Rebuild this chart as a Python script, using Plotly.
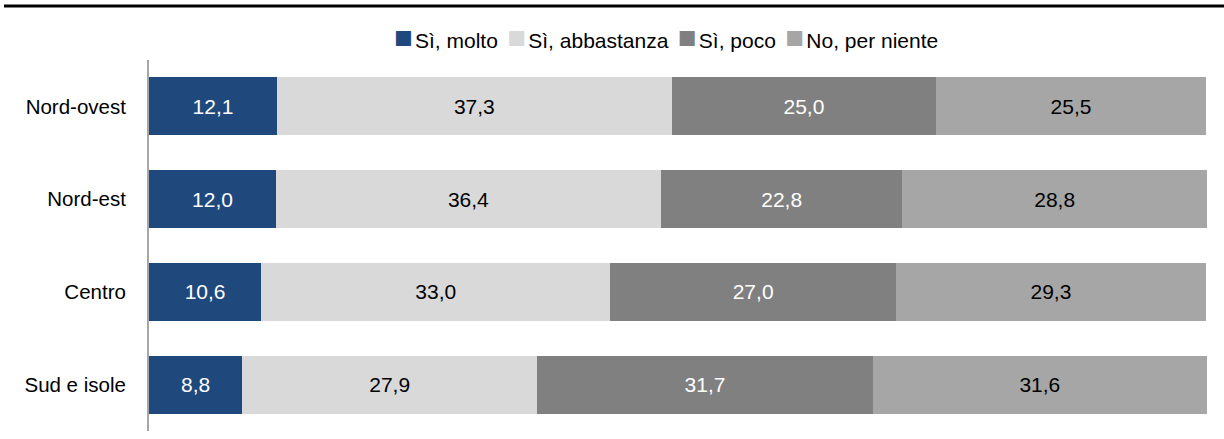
import plotly.graph_objects as go

categories = ["Nord-ovest", "Nord-est", "Centro", "Sud e isole"]
series_names = ["Sì, molto", "Sì, abbastanza", "Sì, poco", "No, per niente"]
molto = [12.1, 12.0, 10.6, 8.8]
abbastanza = [37.3, 36.4, 33.0, 27.9]
poco = [25.0, 22.8, 27.0, 31.7]
per_niente = [25.5, 28.8, 29.3, 31.6]

values = [molto, abbastanza, poco, per_niente]
colors = ["#1F497D", "#D9D9D9", "#808080", "#A6A6A6"]
text_colors = ["white", "black", "white", "black"]
FONT = "Liberation Sans, Arial, sans-serif"

fig = go.Figure()
for name, vals, col, tcol in zip(series_names, values, colors, text_colors):
    fig.add_trace(go.Bar(
        y=categories, x=vals, name=name, orientation="h",
        marker=dict(color=col, line=dict(width=0)),
        texttemplate="%{x:.1f}", textposition="inside",
        insidetextanchor="middle", constraintext="none",
        textfont=dict(color=tcol, size=21, family=FONT),
        hoverinfo="skip", showlegend=False,
    ))

# compact legend built as one line of rich text
legend_parts = []
for name, col in zip(series_names, colors):
    legend_parts.append(
        f'<span style="color:{col};font-size:31px">■</span>'
        f'<span style="font-size:8px"> </span>{name}'
    )
legend_text = '<span style="font-size:34px"> </span>'.join(legend_parts)

fig.update_layout(
    barmode="stack",
    bargap=0.375,
    separators=",.",
    width=1224, height=439,
    margin=dict(l=149, r=17, t=60, b=8),
    paper_bgcolor="white", plot_bgcolor="white",
    font=dict(family=FONT, size=20.5, color="black"),
    showlegend=False,
    xaxis=dict(range=[0, 100], visible=False, fixedrange=True),
    yaxis=dict(autorange="reversed", showline=True, linecolor="#A6A6A6", linewidth=2,
               ticks="", showgrid=False, zeroline=False, ticklabelstandoff=17,
               tickfont=dict(size=20.5), fixedrange=True),
    annotations=[dict(text=legend_text, xref="paper", yref="paper",
                      x=(666 - 149) / 1058, y=1 + 24 / 371, xanchor="center", yanchor="middle",
                      showarrow=False, font=dict(size=21, family=FONT, color="black"))],
    shapes=[dict(type="line", xref="paper", yref="paper",
                 x0=-145/1058, x1=1.02, y0=1 + 54/371, y1=1 + 54/371,
                 line=dict(color="black", width=3))],
)

fig.write_html("out.html", config={"displayModeBar": False},
               post_script="document.body.style.margin='0';")
